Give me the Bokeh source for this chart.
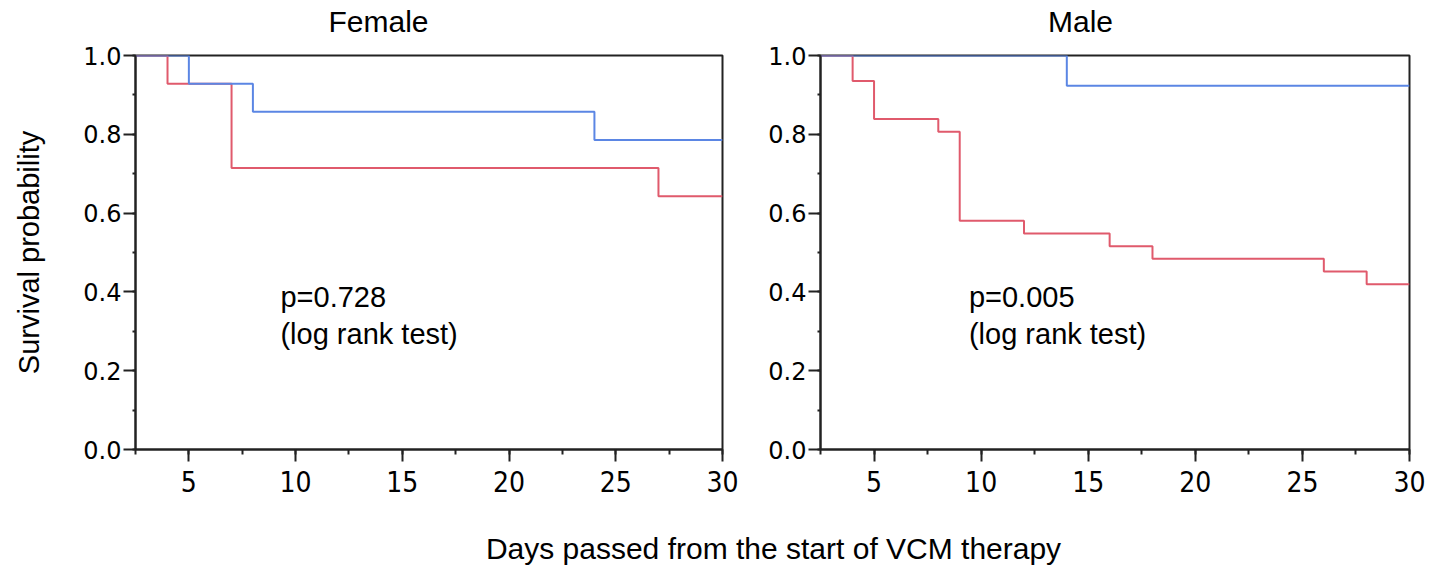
from bokeh.plotting import figure
from bokeh.layouts import row, column
from bokeh.models import Range1d, SingleIntervalTicker, PrintfTickFormatter, Label
from bokeh.embed import file_html
from bokeh.resources import INLINE

# ---- data (Kaplan-Meier step curves) ----
female_red_t = [0, 4, 7, 27, 30]
female_red_s = [1.0, 13/14, 10/14, 9/14, 9/14]
female_blue_t = [0, 5, 8, 24, 30]
female_blue_s = [1.0, 13/14, 12/14, 11/14, 11/14]

male_red_t = [0, 4, 5, 8, 9, 12, 16, 18, 26, 28, 30]
male_red_s = [1.0, 29/31, 26/31, 25/31, 18/31, 17/31, 16/31, 15/31, 14/31, 13/31, 13/31]
male_blue_t = [0, 14, 30]
male_blue_s = [1.0, 12/13, 12/13]

titles = ["Female", "Male"]
pvalues = ["p=0.728", "p=0.005"]
test_name = "(log rank test)"
y_label = "Survival probability"
x_label = "Days passed from the start of VCM therapy"

RED = "#e05a6c"
BLUE = "#5b86e4"
AXC = "#222222"
FONT = "Liberation Sans"

ROW_H = 486
TOP_B = 11
BOT_B = 81


def strip(width, height):
    s = figure(width=width, height=height, output_backend="svg", toolbar_location=None,
               x_range=Range1d(0, width), y_range=Range1d(0, height),
               min_border=0, min_border_left=0, min_border_right=0,
               min_border_top=0, min_border_bottom=0)
    s.title.visible = False
    s.axis.visible = False
    s.grid.visible = False
    s.outline_line_color = None
    return s


def make_panel(width, bl, br, red_t, red_s, blue_t, blue_s,
               ptext, px, py1, py2, ylab):
    p = figure(width=width, height=ROW_H, output_backend="svg", toolbar_location=None,
               x_range=Range1d(2.5, 30), y_range=Range1d(0, 1),
               min_border_left=bl, min_border_right=br, min_border_top=TOP_B,
               min_border_bottom=BOT_B)
    p.title.visible = False
    p.grid.visible = False
    p.background_fill_color = "white"
    p.border_fill_color = "white"
    p.outline_line_color = AXC
    p.outline_line_width = 2
    p.outline_line_alpha = 1.0

    p.step(red_t, red_s, mode="after", line_color=RED, line_width=2)
    p.step(blue_t, blue_s, mode="after", line_color=BLUE, line_width=2)

    xa = p.xaxis[0]
    xa.ticker = SingleIntervalTicker(interval=5, num_minor_ticks=2)
    xa.major_label_text_font = "DejaVu Sans Condensed"
    xa.major_label_text_font_size = "28px"
    xa.major_label_text_color = "black"
    xa.major_tick_out = 12
    xa.major_tick_in = 0
    xa.minor_tick_out = 5
    xa.minor_tick_in = 0
    xa.major_label_standoff = 9
    xa.axis_line_width = 2
    xa.axis_line_color = AXC
    xa.major_tick_line_width = 2
    xa.major_tick_line_color = AXC
    xa.minor_tick_line_width = 2
    xa.minor_tick_line_color = AXC

    ya = p.yaxis[0]
    ya.ticker = SingleIntervalTicker(interval=0.2, num_minor_ticks=2)
    ya.formatter = PrintfTickFormatter(format="%.1f")
    ya.major_label_text_font = "DejaVu Sans"
    ya.major_label_text_font_size = "24px"
    ya.major_label_text_color = "black"
    ya.major_tick_out = 12
    ya.major_tick_in = 0
    ya.minor_tick_out = 3
    ya.minor_tick_in = 0
    ya.major_label_standoff = 2
    ya.axis_line_width = 2
    ya.axis_line_color = AXC
    ya.major_tick_line_width = 2
    ya.major_tick_line_color = AXC
    ya.minor_tick_line_width = 2
    ya.minor_tick_line_color = AXC
    if ylab:
        ya.axis_label = ylab
        ya.axis_label_text_font = FONT
        ya.axis_label_text_font_size = "29px"
        ya.axis_label_text_font_style = "normal"
        ya.axis_label_text_color = "black"
        ya.axis_label_standoff = 35

    p.add_layout(Label(x=px, y=py1, text=ptext, text_align="left",
                       text_baseline="alphabetic", text_font=FONT,
                       text_font_size="29px", text_color="black"))
    p.add_layout(Label(x=px, y=py2, text=test_name, text_align="left",
                       text_baseline="alphabetic", text_font=FONT,
                       text_font_size="29px", text_color="black"))
    return p


p1 = make_panel(760, 135, 38,
                female_red_t, female_red_s, female_blue_t, female_blue_s,
                pvalues[0], 9.29, 0.388, 0.294, y_label)
p2 = make_panel(674, 60, 25,
                male_red_t, male_red_s, male_blue_t, male_blue_s,
                pvalues[1], 9.43, 0.388, 0.294, None)

header = strip(1434, 44)
header.add_layout(Label(x=378, y=23, text=titles[0], text_align="center",
                        text_baseline="alphabetic", text_font=FONT,
                        text_font_size="30px", text_color="black"))
header.add_layout(Label(x=1080, y=23, text=titles[1], text_align="center",
                        text_baseline="alphabetic", text_font=FONT,
                        text_font_size="30px", text_color="black"))

footer = strip(1434, 40)
footer.add_layout(Label(x=773, y=22, text=x_label, text_align="center",
                        text_baseline="alphabetic", text_font=FONT,
                        text_font_size="30px", text_color="black"))

layout = column(header, row(p1, p2), footer)
open("out.html", "w").write(file_html(layout, INLINE))
